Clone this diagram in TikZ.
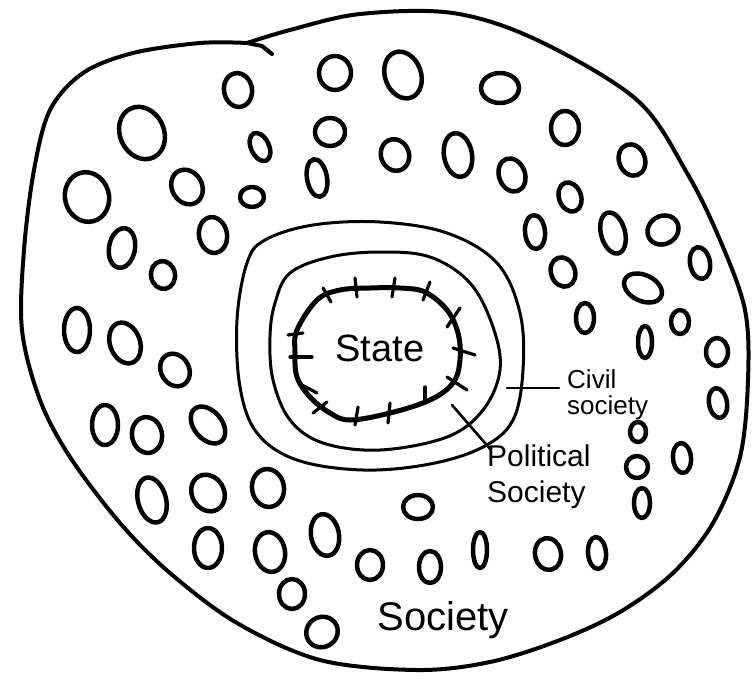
\documentclass[tikz,border=0pt]{standalone}
\usepackage{fontspec}
\setmainfont{Liberation Sans}
\begin{document}
\begin{tikzpicture}[x=1pt,y=-1pt,line cap=round,line join=round,
  oval/.style={line width=4.5pt},
  border/.style={line width=4pt},
  ring/.style={line width=3pt},
  statering/.style={line width=5pt},
  tick/.style={line width=3.2pt},
  lead/.style={line width=2.6pt},
  lbl/.style={inner sep=0pt,align=left}]
\useasboundingbox (0,0) rectangle (754,678);
\fill[white] (0,0) rectangle (754,678);

% outer society boundary
\draw[border] plot[smooth,tension=0.55] coordinates {
 (247,43) (290,30) (360,14) (453,13) (537,40) (637,100) (687,173) (720,240)
 (745,310) (748,380) (740,457) (713,523) (673,573) (620,612) (560,640)
 (490,662) (417,670) (320,660) (237,623) (170,573) (120,523) (70,457)
 (40,400) (22,330) (24,250) (34,170) (50,110) (83,73) (133,53) (200,43) (247,43)};
\draw[border] (247,43) -- (262,46) -- (272,54);

% civil society ring
\draw[ring] plot[smooth cycle,tension=0.6] coordinates {
 (247,263) (265,240) (313,225) (380,222) (447,233) (497,263) (520,313)
 (523,370) (513,420) (483,447) (430,464) (363,470) (297,460) (257,433)
 (240,387) (237,320)};

% political society ring
\draw[ring] plot[smooth cycle,tension=0.6] coordinates {
 (275,303) (290,273) (330,257) (380,252) (430,257) (470,283) (493,327)
 (500,370) (483,410) (447,437) (380,450) (323,443) (290,420) (273,380)
 (270,337)};

% state boundary
\draw[statering] plot[smooth cycle,tension=0.6] coordinates {
 (297,330) (317,300) (340,290) (370,288) (400,288) (425,292) (447,310)
 (458,333) (460,360) (453,383) (430,400) (390,413) (350,420) (330,413)
 (310,397) (297,377) (295,353)};
\foreach \a/\b in {
 {(323,288)}/{(331,302)}, {(355,278)}/{(357,297)}, {(395,278)}/{(392,297)},
 {(430,282)}/{(423,300)}, {(460,308)}/{(447,327)}, {(453,348)}/{(475,355)},
 {(447,377)}/{(467,390)}, {(425,387)}/{(425,403)}, {(390,403)}/{(388,423)},
 {(358,407)}/{(355,425)}, {(313,413)}/{(327,402)}, {(302,385)}/{(317,393)},
 {(290,357)}/{(312,357)}, {(288,335)}/{(303,333)}}
 \draw[tick] \a -- \b;

% people (ovals)
\foreach \x/\y/\rx/\ry/\r in {
 142/133/22/27/25, 238/90/14/17/10, 335/73/16/17/0, 87/197/22/25/15,
 187/187/15/18/30, 260/147/9/15/25, 252/197/12/10/0, 330/132/15/14/0,
 317/178/10/19/10, 213/235/14/18/10, 122/248/13/20/-10, 163/275/12/14/10,
 403/75/18/24/20, 500/88/19/15/0, 565/128/14/17/0, 395/155/14/16/20,
 458/155/14/22/10, 512/175/13/17/20, 632/160/13/16/20, 570/197/11/15/20,
 535/232/10/17/5, 613/233/12/21/15, 663/230/16/14/30, 563/272/12/15/20,
 700/263/10/16/10, 643/288/20/13/-25,
 585/318/9/15/0, 680/322/9/12/0, 645/342/7/16/0, 717/352/11/14/0,
 718/403/9/15/10, 638/432/8/10/0, 637/467/11/11/0, 682/458/9/15/5,
 642/503/8/15/0, 480/550/7/18/0, 548/554/13/16/10, 597/553/9/16/5,
 77/330/13/22/0, 125/343/15/21/20, 175/370/14/17/30, 105/425/13/20/0,
 147/435/15/18/10, 208/425/14/21/40, 152/500/14/23/15, 208/493/16/19/30,
 268/488/16/19/10, 208/548/14/20/0, 270/552/15/20/10, 292/594/13/15/0,
 418/507/15/12/0, 325/535/14/21/10, 370/565/13/15/0, 430/567/11/16/0,
 322/632/16/15/30}
 \draw[oval] (\x,\y) ellipse [x radius=\rx, y radius=\ry, rotate=\r];

% labels
\node[lbl,font=\fontsize{38}{40}\selectfont] (state) at (380,348) {State};
\node[lbl,anchor=north west,font=\fontsize{26}{26}\selectfont] (civ) at (567,369)
  {Civil\\society};
\node[lbl,anchor=north west,font=\fontsize{30}{36}\selectfont] (pol) at (487,445)
  {Political\\Society};
\node[lbl,font=\fontsize{40}{42}\selectfont] (soc) at (443,620) {Society};

\coordinate (civstart) at (507,388);
\coordinate (polstart) at (452,405);
\draw[lead,shorten >=8pt] (civstart) -- (civstart -| civ.west);
\draw[lead] (polstart) -- ([shift={(4,5)}]pol.north west);
\end{tikzpicture}
\end{document}
